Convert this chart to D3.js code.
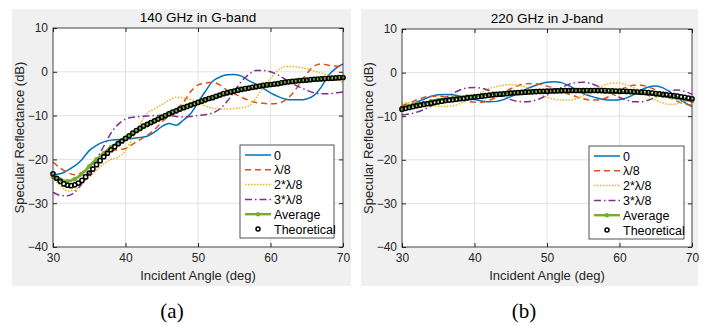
<!DOCTYPE html>
<html>
<head>
<meta charset="utf-8">
<script src="https://cdn.jsdelivr.net/npm/d3@7"></script>
<style>
  body { margin: 0; background: #fff; }
  svg { display: block; font-family: "Liberation Sans", Arial, sans-serif; }
</style>
</head>
<body>
<svg id="chart" width="710" height="325"></svg>
<script>
// incident angles (deg)
const angles = d3.range(30, 71, 1);
const theoAngles = d3.range(30, 70.25, 0.5);

const seriesNames = ['0', 'λ/8', '2*λ/8', '3*λ/8', 'Average', 'Theoretical'];

// 140 GHz, G-band
const gZero = [-23.5,-23.3,-22.5,-21.5,-20,-18,-16.8,-16,-15.6,-15.5,-15.4,-15.2,-15,-14.7,-13.8,-12.5,-11.8,-12.2,-11,-9.5,
  -7,-4.5,-2.2,-1.2,-0.7,-0.6,-1,-2,-2.8,-3.8,-4.8,-5.6,-6.2,-6.4,-6.4,-6.2,-5.4,-3.5,-0.8,0.8,1.8];
const gL1 = [-20.6,-22,-23,-23.5,-23,-21.5,-20,-19,-18,-17.8,-17.5,-16.5,-15.5,-14.5,-13.2,-11.5,-10,-8.5,-7,-4.5,
  -3,-2.6,-2.4,-3,-4.2,-5,-5.8,-6.5,-7,-7.2,-7.3,-7.2,-6.5,-5,-2.8,-0.5,1.3,1.8,1.5,1.3,1];
const gL2 = [-24,-26,-27.2,-27,-25.5,-24,-22.5,-21,-20,-19.5,-18,-15,-12,-9.5,-8.5,-7.5,-6.5,-5.8,-6,-6.3,
  -7,-7.8,-8.3,-8.5,-8.5,-8.4,-8.2,-7.8,-6,-3.5,-1.5,0.3,1.2,1.2,1,0.7,0.2,-0.3,-0.8,-1.5,-2.5];
const gL3 = [-27.5,-28.2,-28.3,-27.5,-25.5,-23,-20,-17,-14,-12,-10.8,-10.4,-10.2,-10.1,-10,-10,-10,-10.2,-10.3,-10.2,
  -10,-9.8,-9.4,-8.5,-6.8,-4.5,-2.2,-0.6,0.3,0.3,0,-0.7,-1.7,-2.7,-3.5,-4.2,-4.8,-5,-5,-4.8,-4.6];
const gAvg = [-24,-24.6,-25,-24.5,-23.3,-21.6,-20,-18.6,-17.2,-16.2,-15.2,-14.1,-13.1,-12.1,-11.2,-10.4,-9.6,-8.9,-8.2,-7.5,
  -6.9,-6.4,-5.9,-5.4,-4.9,-4.5,-4.1,-3.8,-3.5,-3.2,-3,-2.8,-2.5,-2.3,-2.1,-2,-1.8,-1.7,-1.6,-1.5,-1.4];
const gTheo = [-23.3,-24.3,-25,-25.6,-25.9,-26,-25.8,-25.4,-24.8,-24,-23.1,-22.2,-21.2,-20.3,-19.4,-18.6,-17.8,-17.1,-16.4,-15.8,
  -15.2,-14.6,-14,-13.4,-12.9,-12.4,-12,-11.6,-11.2,-10.8,-10.4,-10,-9.6,-9.2,-8.9,-8.5,-8.2,-7.9,-7.6,-7.3,
  -7,-6.7,-6.4,-6.1,-5.9,-5.6,-5.3,-5,-4.8,-4.6,-4.4,-4.2,-4,-3.85,-3.7,-3.55,-3.4,-3.25,-3.1,-3,
  -2.9,-2.8,-2.7,-2.55,-2.4,-2.3,-2.2,-2.1,-2,-1.95,-1.9,-1.8,-1.7,-1.65,-1.6,-1.55,-1.5,-1.45,-1.4,-1.35,-1.3];

// 220 GHz, J-band
const jZero = [-8.2,-7.5,-6.8,-6.1,-5.5,-5.1,-5,-5.1,-5.4,-5.8,-6.2,-6.5,-6.7,-6.6,-6.2,-5.5,-4.7,-3.9,-3.2,-2.6,
  -2.2,-2.1,-2.3,-3,-3.9,-4.8,-5.4,-5.9,-6.2,-6.3,-6.2,-5.8,-5,-4,-3.3,-3.1,-3.5,-4.5,-5.8,-6.9,-7.8];
const jL1 = [-7.6,-7,-6.3,-5.7,-5.4,-5.4,-5.6,-5.9,-6.3,-6.6,-6.8,-6.8,-6.4,-5.6,-4.6,-3.7,-3,-2.6,-2.5,-2.7,
  -3.1,-3.6,-4.2,-4.9,-5.5,-6,-6.3,-6.3,-5.9,-5.1,-4.1,-3.3,-2.9,-2.9,-3.3,-4,-4.9,-5.8,-6.6,-7.2,-7.5];
const jL2 = [-7,-6.9,-7,-7.2,-7.5,-7.7,-7.8,-7.6,-7.1,-6.3,-5.4,-4.5,-3.7,-3.2,-2.9,-2.8,-2.9,-3.3,-4,-4.8,
  -5.6,-6.1,-6.3,-6.3,-6,-5.3,-4.4,-3.5,-2.8,-2.4,-2.4,-2.8,-3.5,-4.4,-5.4,-6.3,-7,-7.3,-7.1,-6.5,-5.9];
const jL3 = [-9.7,-9.5,-9.1,-8.5,-7.7,-6.8,-5.8,-4.8,-4,-3.5,-3.4,-3.6,-4.1,-4.8,-5.6,-6.2,-6.6,-6.7,-6.5,-6,
  -5.2,-4.3,-3.4,-2.7,-2.3,-2.2,-2.5,-3.1,-4,-4.9,-5.7,-6.3,-6.7,-6.7,-6.3,-5.6,-4.8,-4.2,-4,-4.3,-5];
const jAvg = [-8.1,-7.7,-7.3,-7,-6.6,-6.3,-6.1,-5.9,-5.7,-5.5,-5.4,-5.2,-5,-4.9,-4.8,-4.6,-4.5,-4.4,-4.3,-4.3,
  -4.3,-4.2,-4.2,-4.2,-4.2,-4.2,-4.3,-4.3,-4.4,-4.4,-4.5,-4.5,-4.6,-4.7,-4.9,-5.1,-5.3,-5.6,-5.9,-6.2,-6.5];
const jTheo = [-8.4,-8.2,-8,-7.8,-7.6,-7.45,-7.3,-7.15,-7,-6.85,-6.7,-6.55,-6.4,-6.3,-6.2,-6.1,-6,-5.9,-5.8,-5.7,
  -5.6,-5.5,-5.4,-5.3,-5.2,-5.1,-5,-4.95,-4.9,-4.8,-4.7,-4.65,-4.6,-4.55,-4.5,-4.45,-4.4,-4.35,-4.3,-4.28,
  -4.25,-4.22,-4.2,-4.18,-4.15,-4.12,-4.1,-4.1,-4.1,-4.1,-4.1,-4.1,-4.1,-4.1,-4.1,-4.12,-4.15,-4.18,-4.2,-4.22,
  -4.25,-4.28,-4.3,-4.35,-4.4,-4.45,-4.5,-4.55,-4.6,-4.7,-4.8,-4.9,-5,-5.1,-5.2,-5.3,-5.4,-5.55,-5.7,-5.85,-6];

const xTicks = [30, 40, 50, 60, 70];
const yTicks = [-40, -30, -20, -10, 0, 10];

const colors = ['#0072BD', '#D95319', '#EDB120', '#7E2F8E', '#77AC30', '#000'];
const dashes = [null, '6,4', '1.5,1.5', '7,3,1.5,3'];

const svg = d3.select('#chart');

function drawPanel(p) {
  svg.append('rect')
    .attr('x', p.bg[0]).attr('y', p.bg[1])
    .attr('width', p.bg[2]).attr('height', p.bg[3])
    .attr('fill', '#f0f0f0');

  const x = d3.scaleLinear().domain([30, 70]).range([p.left, p.right]);
  const y = d3.scaleLinear().domain([-40, 10]).range([p.bottom, p.top]);

  const g = svg.append('g');

  g.append('rect')
    .attr('x', p.left).attr('y', p.top)
    .attr('width', p.right - p.left).attr('height', p.bottom - p.top)
    .attr('fill', '#fff');

  // grid
  g.selectAll('.vgrid').data(xTicks).join('line')
    .attr('x1', d => x(d)).attr('x2', d => x(d))
    .attr('y1', p.top).attr('y2', p.bottom)
    .attr('stroke', '#e3e3e3').attr('stroke-width', 1);
  g.selectAll('.hgrid').data(yTicks).join('line')
    .attr('y1', d => y(d)).attr('y2', d => y(d))
    .attr('x1', p.left).attr('x2', p.right)
    .attr('stroke', '#e3e3e3').attr('stroke-width', 1);

  const line = d3.line()
    .x((d, i) => x(angles[i]))
    .y(d => y(d))
    .curve(d3.curveMonotoneX);

  const plot = g.append('g');
  p.series.forEach((s, k) => {
    plot.append('path')
      .datum(s)
      .attr('d', line)
      .attr('fill', 'none')
      .attr('stroke', colors[k])
      .attr('stroke-width', 1.5)
      .attr('stroke-dasharray', dashes[k]);
  });

  // average
  plot.append('path')
    .datum(p.avg)
    .attr('d', line)
    .attr('fill', 'none')
    .attr('stroke', colors[4])
    .attr('stroke-width', 2.8);
  plot.selectAll('.avgpt').data(p.avg).join('circle')
    .attr('cx', (d, i) => x(angles[i]))
    .attr('cy', d => y(d))
    .attr('r', 2.3)
    .attr('fill', colors[4]);

  // theoretical
  plot.selectAll('.theo').data(p.theo).join('circle')
    .attr('cx', (d, i) => x(theoAngles[i]))
    .attr('cy', d => y(d))
    .attr('r', 2.1)
    .attr('fill', 'none')
    .attr('stroke', '#000')
    .attr('stroke-width', 1.5);

  // axes, ticks inside on all four sides
  const axCol = '#262626';
  const styleAxis = sel => {
    sel.select('.domain').remove();
    sel.selectAll('line').attr('stroke', axCol);
    sel.selectAll('text').attr('fill', axCol).style('font-size', '12px')
      .style('font-family', '"Liberation Sans", Arial, sans-serif');
  };
  g.append('g').attr('transform', `translate(0,${p.bottom})`)
    .call(d3.axisBottom(x).tickValues(xTicks).tickSize(-4).tickPadding(6).tickFormat(d3.format('d')))
    .call(styleAxis);
  g.append('g').attr('transform', `translate(0,${p.top})`)
    .call(d3.axisTop(x).tickValues(xTicks).tickSize(-4).tickFormat(''))
    .call(styleAxis);
  g.append('g').attr('transform', `translate(${p.left},0)`)
    .call(d3.axisLeft(y).tickValues(yTicks).tickSize(-4).tickPadding(5).tickFormat(d3.format('d')))
    .call(styleAxis);
  g.append('g').attr('transform', `translate(${p.right},0)`)
    .call(d3.axisRight(y).tickValues(yTicks).tickSize(-4).tickFormat(''))
    .call(styleAxis);

  g.append('rect')
    .attr('x', p.left).attr('y', p.top)
    .attr('width', p.right - p.left).attr('height', p.bottom - p.top)
    .attr('fill', 'none').attr('stroke', axCol).attr('stroke-width', 0.8);

  const cx = (p.left + p.right) / 2;
  g.append('text')
    .attr('x', cx).attr('y', p.top - 6)
    .attr('text-anchor', 'middle')
    .style('font-size', '13.5px').attr('fill', '#000')
    .text(p.title);
  g.append('text')
    .attr('x', cx).attr('y', p.bottom + 33)
    .attr('text-anchor', 'middle')
    .style('font-size', '13px').attr('fill', axCol)
    .text('Incident Angle (deg)');
  g.append('text')
    .attr('transform', `translate(${p.left - 29},${(p.top + p.bottom) / 2}) rotate(-90)`)
    .attr('text-anchor', 'middle')
    .style('font-size', '13px').attr('fill', axCol)
    .text('Specular Reflectance (dB)');

  // legend
  const lg = g.append('g').attr('transform', `translate(${p.legend[0]},${p.legend[1]})`);
  lg.append('rect')
    .attr('width', p.legend[2]).attr('height', 93)
    .attr('fill', '#fff').attr('stroke', axCol).attr('stroke-width', 0.8);
  seriesNames.forEach((name, k) => {
    const ly = 10 + k * 14.8;
    if (k < 5) {
      lg.append('line')
        .attr('x1', 5).attr('x2', 31).attr('y1', ly).attr('y2', ly)
        .attr('stroke', colors[k])
        .attr('stroke-width', k === 4 ? 2.4 : 1.5)
        .attr('stroke-dasharray', k < 4 ? dashes[k] : null);
    }
    if (k === 4) {
      lg.append('circle').attr('cx', 18).attr('cy', ly).attr('r', 2.2).attr('fill', colors[4]);
    }
    if (k === 5) {
      lg.append('circle').attr('cx', 18).attr('cy', ly).attr('r', 2)
        .attr('fill', 'none').attr('stroke', '#000').attr('stroke-width', 1.5);
    }
    lg.append('text')
      .attr('x', 34).attr('y', ly + 4.5)
      .style('font-size', '12.5px').attr('fill', '#000')
      .text(name);
  });

  svg.append('text')
    .attr('x', p.tag[0]).attr('y', p.tag[1])
    .attr('text-anchor', 'middle')
    .style('font-family', '"Liberation Serif", "DejaVu Serif", serif')
    .style('font-size', '21px').attr('fill', '#000')
    .text(p.label);
}

drawPanel({
  bg: [12, 9, 339, 277],
  left: 53, right: 343, top: 28, bottom: 247,
  title: '140 GHz in G-band',
  series: [gZero, gL1, gL2, gL3],
  avg: gAvg, theo: gTheo,
  legend: [240, 145, 94],
  tag: [172, 318], label: '(a)'
});

drawPanel({
  bg: [361, 9, 337, 277],
  left: 402, right: 692, top: 29, bottom: 247,
  title: '220 GHz in J-band',
  series: [jZero, jL1, jL2, jL3],
  avg: jAvg, theo: jTheo,
  legend: [589, 146, 95],
  tag: [524, 318], label: '(b)'
});
</script>
</body>
</html>
